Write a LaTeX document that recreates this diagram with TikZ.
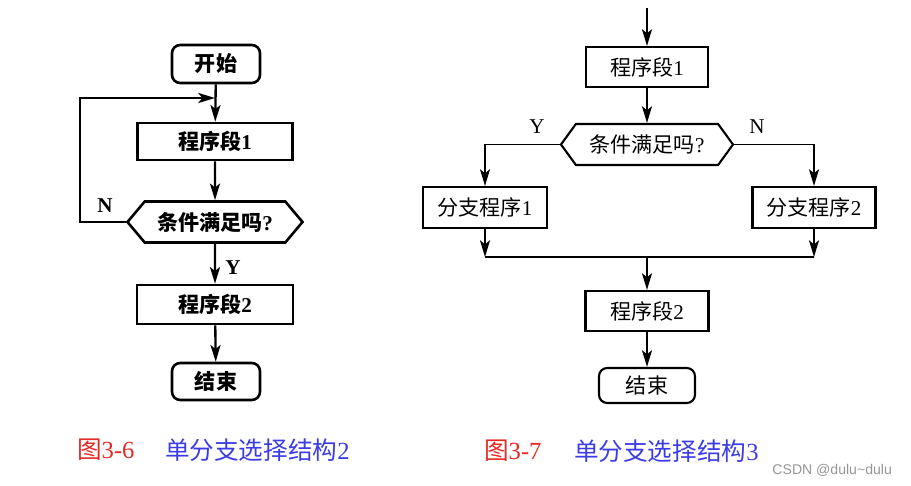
\documentclass[tikz,border=0pt]{standalone}
\usepackage{fontspec}
\setmainfont{Liberation Serif}
\setsansfont{Liberation Sans}
\newfontfamily\cjk{Noto Sans CJK SC}
\usetikzlibrary{arrows.meta,shapes.symbols}

\definecolor{capred}{RGB}{230,40,35}
\definecolor{capblue}{RGB}{60,60,230}
\definecolor{markgray}{RGB}{150,150,150}

\begin{document}
\begin{tikzpicture}[x=0.03cm, y=-0.03cm,
	every node/.style={font=\fontsize{18}{20}\selectfont},
	box/.style={draw, rectangle, inner sep=0pt, line width=2.2pt},
	term/.style={box, rounded corners=7pt},
	cond/.style={draw, signal, signal to=west and east, inner sep=0pt, line width=2.2pt},
	arr/.style={-{Stealth[length=5mm, width=3mm, inset=1.2mm]}, line width=2pt},
	lbl/.style={font=\fontsize{18}{20}\selectfont\bfseries},
	figcap/.style={anchor=west, font=\fontsize{21}{24}\selectfont}]

\def\px{0.03cm}
\useasboundingbox (0,0) rectangle (911,486);

% Figure 3-6 (left)
\node[term, minimum width=88*\px, minimum height=38*\px] (s) at (216,64) {\bfseries\cjk 开始};
\node[box, minimum width=155*\px, minimum height=37*\px] (p1) at (215,141.5) {\bfseries{\cjk 程序段}1};
\node[cond, signal pointer angle=100, minimum width=175*\px, minimum height=41*\px] (c) at (215,222) {\bfseries{\cjk 条件满足吗}?};
\node[box, minimum width=156*\px, minimum height=39*\px] (p2) at (215,304.5) {\bfseries{\cjk 程序段}2};
\node[term, minimum width=88*\px, minimum height=37*\px] (e) at (216,381.5) {\bfseries\cjk 结束};

\coordinate (lp) at (80,98);
\coordinate (mj) at (215,98);

\draw[arr] (s) -- (p1);
\draw[arr] (p1) -- (c);
\draw[arr] (c.west) -| (lp) -- (mj);
\draw[arr] (c) -- (p2);
\draw[arr] (p2) -- (e);

\node[lbl] (n1) at (105,206) {N};
\node[lbl] (y1) at (233,268) {Y};

% Figure 3-7 (right)
\coordinate (in) at (647,8);
\node[box, line width=1.8pt, minimum width=122*\px, minimum height=40*\px] (q1) at (647,67) {{\cjk 程序段}1};
\node[cond, line width=1.8pt, signal pointer angle=108, minimum width=172*\px, minimum height=41*\px] (qc) at (647,144.5) {{\cjk 条件满足吗}?};
\node[box, line width=1.8pt, minimum width=124*\px, minimum height=41*\px] (b1) at (485,207.5) {{\cjk 分支程序}1};
\node[box, line width=1.8pt, minimum width=123*\px, minimum height=41*\px] (b2) at (814,207.5) {{\cjk 分支程序}2};
\node[box, line width=1.8pt, minimum width=123*\px, minimum height=40*\px] (q2) at (647,311) {{\cjk 程序段}2};
\node[term, line width=1.8pt, minimum width=96*\px, minimum height=35*\px] (qe) at (647,385.5) {\cjk 结束};

\coordinate (jl) at (485,257);
\coordinate (jr) at (814,257);
\coordinate (jm) at (647,257);

\draw[arr, line width=1.5pt] (in) -- (q1);
\draw[arr, line width=1.5pt] (q1) -- (qc);
\draw[arr, line width=1.5pt] (qc.west) -| (b1);
\draw[arr, line width=1.5pt] (qc.east) -| (b2);
\draw[arr, line width=1.5pt] (b1) -- (jl);
\draw[arr, line width=1.5pt] (b2) -- (jr);
\draw[line width=1.5pt] (jl) -- (jr);
\draw[arr, line width=1.5pt] (jm) -- (q2);
\draw[arr, line width=1.5pt] (q2) -- (qe);

\node (y2) at (537,127) {Y};
\node (n2) at (757,127) {N};

% captions
\node[figcap, text=capred] (f6) at (73,450) {{\cjk 图}3-6};
\node[figcap, text=capblue] (t6) at (161,450) {{\cjk 单分支选择结构}2};
\node[figcap, text=capred] (f7) at (480,451) {{\cjk 图}3-7};
\node[figcap, text=capblue] (t7) at (570,451) {{\cjk 单分支选择结构}3};
\node[anchor=east, text=markgray, font=\fontsize{12}{14}\selectfont\sffamily] (wm) at (896,470) {CSDN @dulu\textasciitilde dulu};

\end{tikzpicture}
\end{document}
